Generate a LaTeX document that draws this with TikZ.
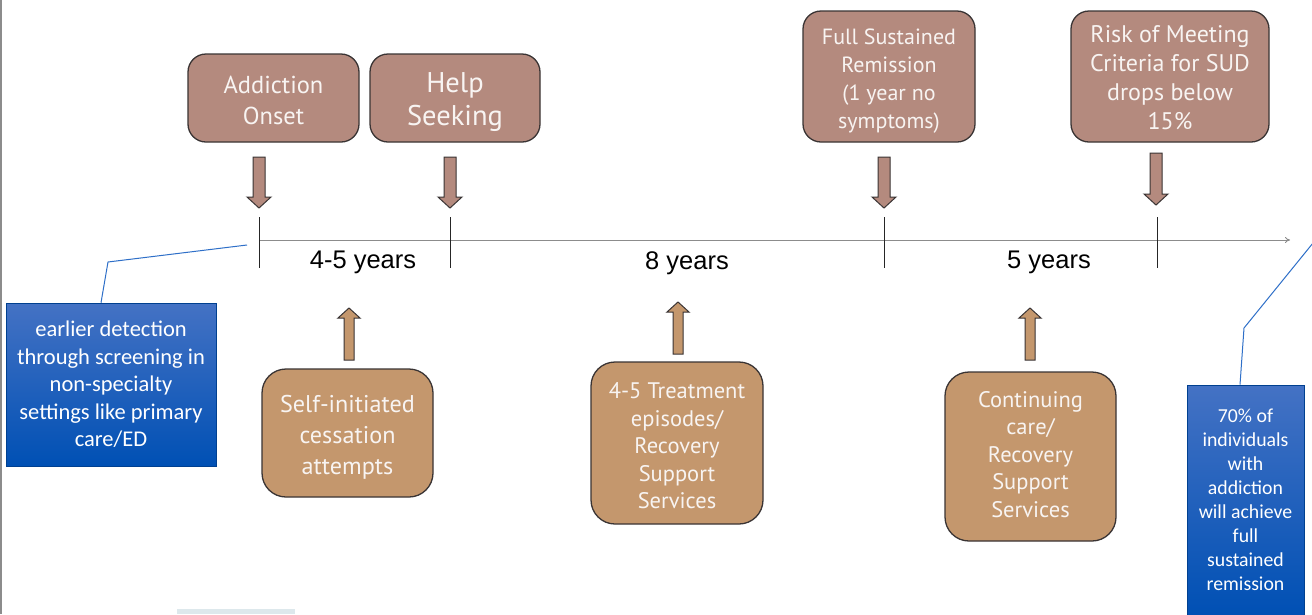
\documentclass[tikz,border=0pt]{standalone}
\usepackage{fontspec}
\setmainfont{PT Sans}
\newfontfamily\calfont{Carlito}
\newfontfamily\arialfont{Liberation Sans}
\usetikzlibrary{arrows.meta}
\definecolor{rosebrown}{HTML}{B48A7E}
\definecolor{tanbrown}{HTML}{C4976D}
\definecolor{edgedark}{HTML}{3A3434}
\definecolor{bluetop}{HTML}{4472C4}
\definecolor{bluebot}{HTML}{0050B4}
\definecolor{callblue}{HTML}{2E6FC8}
\definecolor{txtwhite}{HTML}{F8F4F2}
\definecolor{axisgray}{HTML}{8C8C8C}
\definecolor{paleblue}{HTML}{DDE8EC}
\tikzset{
  topbox/.style={draw=edgedark, line width=1.3pt, fill=rosebrown, rounded corners=18pt, inner sep=0pt},
  botbox/.style={draw=edgedark, line width=1.3pt, fill=tanbrown, rounded corners=24pt, inner sep=0pt},
  boxtext/.style={text=txtwhite, align=center, inner sep=0pt},
  bluebox/.style={draw=bluebot!80!black, line width=0.6pt, top color=bluetop, bottom color=bluebot,
    text=white, align=center, inner sep=0pt, font=\calfont},
  arrowline/.style={draw=edgedark, line width=1pt},
  tickline/.style={draw=black!85, line width=0.9pt},
  yearlabel/.style={font=\arialfont\fontsize{25.5}{28}\selectfont, text=black, inner sep=0pt},
  callout/.style={draw=callblue, line width=1pt},
}
\newcommand{\blockdown}[4]{\draw[arrowline, fill=#4] (#1-6,#2) -- (#1+6,#2) -- (#1+6,#3-11) -- (#1+12,#3-11) -- (#1,#3) -- (#1-12,#3-11) -- (#1-6,#3-11) -- cycle;}
\newcommand{\blockup}[4]{\draw[arrowline, fill=#4] (#1-5,#3) -- (#1+5,#3) -- (#1+5,#2+10) -- (#1+11,#2+10) -- (#1,#2) -- (#1-11,#2+10) -- (#1-5,#2+10) -- cycle;}
\begin{document}
\begin{tikzpicture}[x=1pt,y=-1pt]
\useasboundingbox (0,0) rectangle (1312,614);
\fill[white] (0,0) rectangle (1312,614);
% left border
\draw[axisgray, line width=1.5pt] (1,0) -- (1,614);
% pale strip
\fill[paleblue] (177,609) rectangle (295,614);

% timeline
\coordinate (tstart) at (259,240);
\coordinate (tend) at (1290,240);
\draw[axisgray, line width=1pt, -{To[length=5pt,width=6pt]}] (tstart) -- (tend);
\foreach \tx in {259,450,884,1157}{
  \draw[tickline] (\tx,217) -- (\tx,268);
}
\node[yearlabel] (y1) at (363,262) {4-5 years};
\node[yearlabel] (y2) at (687,263) {8 years};
\node[yearlabel] (y3) at (1049,262) {5 years};

% top boxes
\node[topbox, minimum width=171pt, minimum height=88pt] (onset) at (273.5,98) {};
\node[boxtext, font=\fontsize{24.5}{31}\selectfont] (onsettext) at (273.5,100) {Addiction\\Onset};
\node[topbox, minimum width=170pt, minimum height=88pt] (help) at (455,98) {};
\node[boxtext, font=\fontsize{28.5}{33}\selectfont] (helptext) at (455,102) {Help\\Seeking};
\node[topbox, minimum width=172pt, minimum height=131pt] (full) at (889,76.5) {};
\node[boxtext, font=\fontsize{22}{28}\selectfont] (fulltext) at (889,81.5) {Full Sustained\\Remission\\(1 year no\\symptoms)};
\node[topbox, minimum width=198pt, minimum height=131pt] (risk) at (1170,76.5) {};
\node[boxtext, font=\fontsize{24}{29}\selectfont] (risktext) at (1170,78) {Risk of Meeting\\Criteria for SUD\\drops below\\15\%};

% down arrows
\blockdown{259}{157}{208}{rosebrown}
\blockdown{450}{157}{208}{rosebrown}
\blockdown{884}{157}{208}{rosebrown}
\blockdown{1156}{153}{205}{rosebrown}

% bottom boxes
\node[botbox, minimum width=171pt, minimum height=128pt] (self) at (347.5,433) {};
\node[boxtext, font=\fontsize{24.2}{31}\selectfont] (selftext) at (347.5,437) {Self-initiated\\cessation\\attempts};
\node[botbox, minimum width=172pt, minimum height=162pt] (treat) at (677,443) {};
\node[boxtext, font=\fontsize{22.5}{27.5}\selectfont] (treattext) at (677,446) {4-5 Treatment\\episodes/\\Recovery\\Support\\Services};
\node[botbox, minimum width=171pt, minimum height=169pt] (cont) at (1030.5,456.5) {};
\node[boxtext, font=\fontsize{22.5}{27.5}\selectfont] (conttext) at (1030.5,454.5) {Continuing\\care/\\Recovery\\Support\\Services};

% up arrows
\blockup{349}{308}{360}{tanbrown}
\blockup{678}{302}{354}{tanbrown}
\blockup{1030}{308}{360}{tanbrown}

% blue boxes
\node[bluebox, minimum width=210pt, minimum height=163pt, font=\calfont\fontsize{22.5}{27.5}\selectfont] (earlier) at (111,384.5) {earlier detection\\through screening in\\non-specialty\\settings like primary\\care/ED};
\node[bluebox, minimum width=117pt, minimum height=230pt, font=\calfont\fontsize{19.8}{24}\selectfont] (seventy) at (1245.5,500) {70\% of\\individuals\\with\\addiction\\will achieve\\full\\sustained\\remission};

% callouts
\coordinate (cl1) at (108,262);
\coordinate (cl2) at (247,245);
\draw[callout] (earlier.north -| 101,0) -- (cl1) -- (cl2);
\coordinate (cr1) at (1244,328);
\coordinate (cr2) at (1313,243);
\draw[callout] (seventy.north -| 1240,0) -- (cr1) -- (cr2);
\end{tikzpicture}
\end{document}
